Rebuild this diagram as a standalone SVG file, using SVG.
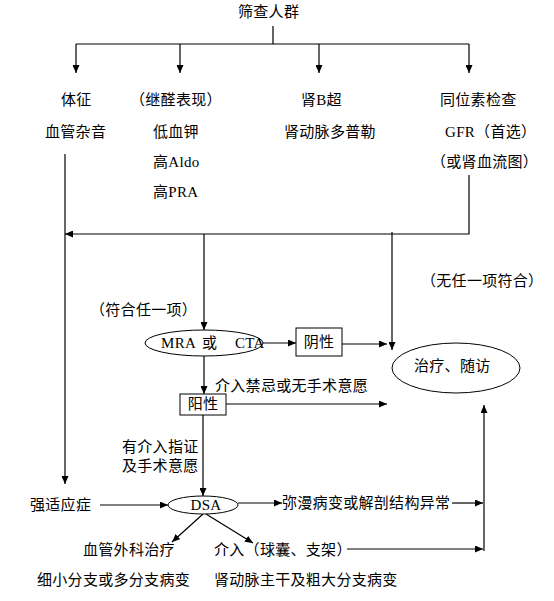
<svg xmlns="http://www.w3.org/2000/svg" width="554" height="601" viewBox="0 0 554 601">
<defs>
<marker id="ah" markerWidth="8" markerHeight="7" refX="8" refY="3.5" orient="auto" markerUnits="userSpaceOnUse">
<path d="M0,0 L8,3.5 L0,7 z" fill="#000"/>
</marker>
<style>
text{font-family:"Liberation Serif","Noto Sans CJK SC",serif;font-size:15px;fill:#000;letter-spacing:0.3px}
.c{text-anchor:middle}
.ln{fill:none;stroke:#000;stroke-width:1.2}
.ar{fill:none;stroke:#000;stroke-width:1.2;marker-end:url(#ah)}
.sh{fill:#fff;stroke:#000;stroke-width:1}
</style>
</defs>
<rect width="554" height="601" fill="#fff"/>
<g id="connectors">
<path class="ln" d="M273,26 V44 M76,44 H469"/>
<path class="ar" d="M76,44 V73"/>
<path class="ar" d="M180,44 V73"/>
<path class="ar" d="M319,44 V73"/>
<path class="ar" d="M469,44 V73"/>
<path class="ar" d="M65,154 V484"/>
<path class="ar" d="M469,175 V234 H65"/>
<path class="ar" d="M204,234 V330"/>
<path class="ar" d="M392,232 V350"/>
<path class="ar" d="M263,343 H296"/>
<path class="ar" d="M342,344 H387"/>
<path class="ar" d="M204,356 V394"/>
<path class="ar" d="M226,404 H387"/>
<path class="ar" d="M203,415 V496"/>
<path class="ar" d="M100,505 H168"/>
<path class="ar" d="M238,503 H282"/>
<path class="ar" d="M452,503 H483"/>
<path class="ar" d="M347,549 H483"/>
<path class="ar" d="M484,551 V405"/>
<path class="ar" d="M203,514 L172,542"/>
<path class="ar" d="M206,514 L253,543"/>
</g>
<g id="screen"><text x="238" y="17">筛查人群</text></g>
<g id="sign"><text x="61" y="105">体征</text><text x="45" y="137">血管杂音</text></g>
<g id="aldo"><text x="130" y="105">（继醛表现）</text><text x="153" y="137">低血钾</text><text x="153" y="167">高Aldo</text><text x="153" y="197">高PRA</text></g>
<g id="bus"><text x="301" y="105">肾B超</text><text x="284" y="137">肾动脉多普勒</text></g>
<g id="iso"><text x="440" y="105">同位素检查</text><text x="445" y="137">GFR（首选）</text><text x="431" y="167">（或肾血流图）</text></g>
<g id="none"><text x="421" y="286">（无任一项符合）</text></g>
<g id="any"><text x="90" y="315">（符合任一项）</text></g>
<g id="mra"><ellipse class="sh" cx="204" cy="343" rx="59" ry="13"/><text y="348"><tspan x="161">MRA</tspan><tspan x="202">或</tspan><tspan x="235">CTA</tspan></text></g>
<g id="neg"><rect class="sh" x="296" y="328" width="46" height="28"/><text class="c" x="319" y="347">阴性</text></g>
<g id="treat"><ellipse class="sh" cx="456" cy="368" rx="64" ry="25"/><text x="414" y="371">治疗、随访</text></g>
<g id="contra"><text x="215" y="391">介入禁忌或无手术意愿</text></g>
<g id="pos"><rect class="sh" x="180" y="394" width="46" height="21"/><text class="c" x="203" y="409">阳性</text></g>
<g id="indic"><text x="122" y="452">有介入指证</text><text x="122" y="471">及手术意愿</text></g>
<g id="strong"><text x="30" y="510">强适应症</text></g>
<g id="dsa"><ellipse class="sh" cx="203" cy="505" rx="35" ry="9"/><text class="c" x="206" y="510">DSA</text></g>
<g id="diffuse"><text x="282" y="508">弥漫病变或解剖结构异常</text></g>
<g id="surg"><text x="83" y="555">血管外科治疗</text><text x="37" y="585">细小分支或多分支病变</text></g>
<g id="interv"><text x="214" y="555">介入（球囊、支架）</text><text x="214" y="585">肾动脉主干及粗大分支病变</text></g>
</svg>
